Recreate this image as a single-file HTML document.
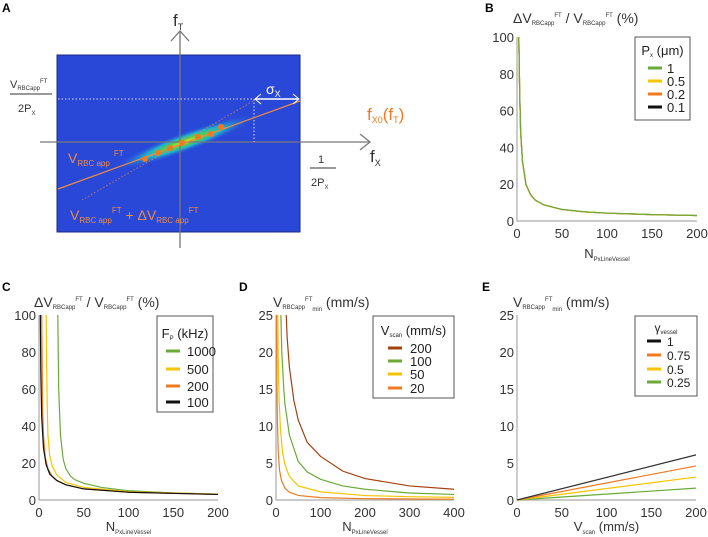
<!DOCTYPE html>
<html><head><meta charset="utf-8"><style>
body{margin:0;background:#fff;}
svg{display:block;font-family:"Liberation Sans",sans-serif;}
</style></head><body>
<svg id="fig" width="708" height="537" viewBox="0 0 708 537">
<defs>
<radialGradient id="blob" cx="50%" cy="50%" r="50%">
<stop offset="0%" stop-color="#f0e020"/>
<stop offset="25%" stop-color="#60d040"/>
<stop offset="55%" stop-color="#20b0d0"/>
<stop offset="100%" stop-color="#2a48d8" stop-opacity="0"/>
</radialGradient>
</defs>
<g>
<text x="2" y="12" font-size="12" font-weight="bold">A</text>
<rect x="57" y="55" width="243" height="177" fill="#2a48d8" stroke="#1a2a80"/>
<ellipse cx="185" cy="142" rx="75" ry="10" fill="url(#blob)" transform="rotate(-20 185 142)"/>
<line x1="180" y1="32" x2="180" y2="248" stroke="#777" stroke-width="1.3"/>
<polyline points="171,41 180,31 189,41" fill="none" stroke="#777" stroke-width="1.3"/>
<line x1="40" y1="142" x2="370" y2="142" stroke="#777" stroke-width="1.3"/>
<polyline points="360,134 370,142 360,150" fill="none" stroke="#777" stroke-width="1.3"/>
<line x1="58" y1="99" x2="253" y2="99" stroke="#ddd" stroke-dasharray="1.5,2"/>
<line x1="254" y1="99" x2="254" y2="142" stroke="#ddd" stroke-dasharray="1.5,2"/>
<line x1="82" y1="200" x2="255" y2="100" stroke="#f08a40" stroke-dasharray="1.5,2" opacity="0.7"/>
<line x1="58" y1="189" x2="300" y2="101" stroke="#f08a40" stroke-width="1.2"/>
<g fill="#f07a20">
<circle cx="145" cy="159" r="3"/><circle cx="158" cy="153" r="3"/><circle cx="170" cy="148" r="3"/><circle cx="182" cy="143" r="3"/><circle cx="198" cy="137" r="3"/><circle cx="211" cy="134" r="3"/><circle cx="221" cy="127" r="3"/></g>
<line x1="256" y1="99" x2="298" y2="99" stroke="#fff" stroke-width="1.5"/>
<polyline points="261,94 255,99 261,104" fill="none" stroke="#fff"/><polyline points="293,94 299,99 293,104" fill="none" stroke="#fff"/>
<text x="266" y="94" font-size="14" fill="#fff">σ<tspan font-size="9" dy="3">X</tspan></text>
<text x="173" y="26" font-size="17" fill="#333">f<tspan font-size="9" dy="4">T</tspan></text>
<text x="370" y="162" font-size="17" fill="#333">f<tspan font-size="9" dy="4">X</tspan></text>
<text x="367" y="120" font-size="17" fill="#f07a20">f<tspan font-size="9" dy="3">X0</tspan><tspan dy="-3">(f</tspan><tspan font-size="9" dy="3">T</tspan><tspan dy="-3">)</tspan></text>
<text x="10" y="88" font-size="11" fill="#333">V<tspan font-size="6" dy="2">RBCapp</tspan><tspan font-size="6" dy="-7">FT</tspan></text>
<line x1="10" y1="94" x2="52" y2="94" stroke="#333"/>
<text x="18" y="112" font-size="11" fill="#333">2P<tspan font-size="6" dy="3">X</tspan></text>
<text x="318" y="163" font-size="11" fill="#333">1</text>
<line x1="310" y1="168" x2="336" y2="168" stroke="#333"/>
<text x="311" y="186" font-size="11" fill="#333">2P<tspan font-size="6" dy="3">X</tspan></text>
<text x="68" y="163" font-size="14" fill="#f08a40">V<tspan font-size="8" dy="3">RBC app</tspan><tspan font-size="8" dx="4" dy="-10">FT</tspan></text>
<text x="70" y="220" font-size="14" fill="#f08a40">V<tspan font-size="8" dy="3">RBC app</tspan><tspan font-size="8" dy="-10">FT</tspan><tspan dy="7"> + ΔV</tspan><tspan font-size="8" dy="3">RBC app</tspan><tspan font-size="8" dy="-10">FT</tspan></text>
</g>
<g id="plots"></g>
</svg>
<script>
const G='#6aaa3a',Y='#f5c400',O='#f07a20',K='#111',BR='#a5400f';
// Panel B data
const bN=[2,3,4,6,10,15,20,30,50,75,100,150,200];
const bP1=[100,70,50,33,20,14.5,11.5,8.8,6.3,5,4.3,3.5,3];
const bP05=[100,69,49,32.5,19.7,14.3,11.4,8.7,6.2,4.95,4.25,3.45,2.95];
const bP02=[100,69,49,32.5,19.7,14.3,11.4,8.7,6.2,4.95,4.25,3.45,2.95];
const bP01=[100,69,49,32.5,19.7,14.3,11.4,8.7,6.2,4.95,4.25,3.45,2.95];
// Panel C data
const c1000N=[21,22,24,27,30,35,40,50,70,100,150,200];
const c1000=[100,60,35,22,17,13,11,9,6.8,5,3.8,3.2];
const c500N=[8,9,10,12,15,20,30,50,100,200];
const c500=[100,55,35,24,18,13.5,9.5,6.8,4.5,3.1];
const c200N=[3,4,5,7,10,15,20,30,50,100,200];
const c200=[100,50,35,23,17,12.5,10.5,8.2,6,4.2,3];
const c100N=[1.5,2,3,5,8,12,20,30,50,100,200];
const c100=[100,70,45,28,19,14,10.5,8.2,6,4.2,3];
// Panel D data
const d200N=[23,25,30,40,50,70,100,150,200,300,400];
const d200=[25,22,18,13.5,10.8,7.8,5.9,3.9,2.9,1.9,1.45];
const d100N=[11,13,17,20,30,50,70,100,150,200,300,400];
const d100=[25,20,15.5,13,8.8,5.2,3.8,2.8,1.9,1.45,0.95,0.75];
const d50N=[4,5,7,10,15,20,30,50,100,200,300,400];
const d50=[25,19,13.5,9.5,6.3,4.8,3.2,1.9,1.1,0.6,0.45,0.35];
const d20N=[1.5,2,3,5,8,12,20,30,50,100,200,400];
const d20=[25,17,11,6.5,4,2.7,1.6,1.05,0.62,0.32,0.18,0.1];
// Panel E data
const eV=[0,200];
const eG1=[0,6.1];
const eG075=[0,4.6];
const eG05=[0,3.1];
const eG025=[0,1.6];

const NS='http://www.w3.org/2000/svg';
const root=document.getElementById('plots');
function mk(tag,at,parent,txt){const e=document.createElementNS(NS,tag);for(const k in at)e.setAttribute(k,at[k]);if(txt!==undefined)e.textContent=txt;(parent||root).appendChild(e);return e;}
function panel(id,x0,x1,y0,y1,xmax,ymax,xt,yt){
  const g=mk('g',{});
  
  
  const sx=v=>x0+(x1-x0)*v/xmax, sy=v=>y0-(y0-y1)*v/ymax;
  const ax=mk('path',{d:`M${x0},${y1} V${y0} H${x1}`,fill:'none',stroke:'#aaa','stroke-width':1.2},g);
  
  
  xt.forEach(v=>{const t=mk('text',{x:sx(v),y:y0+17,'font-size':13,'text-anchor':'middle',fill:'#333'},g,String(v));
    
    });
  yt.forEach(v=>{const t=mk('text',{x:x0-3,y:sy(v)+5,'font-size':13,'text-anchor':'end',fill:'#333'},g,String(v));
    
    });
  return {g,sx,sy,x0,x1,y0,y1};
}
function series(p,xs,ys,col,name,ymax){
  const pts=xs.map((x,i)=>[p.sx(x),p.sy(Math.min(ys[i],ymax))]);
  const l=mk('polyline',{points:pts.map(q=>q.join(',')).join(' '),fill:'none',stroke:col,'stroke-width':1.2},p.g);
  
  
}
function legend(p,bx,by,bw,bh,title,items,ty,ey,lx,tx,fs){
  const g=mk('g',{},p.g);
  
  
  mk('rect',{x:bx,y:by,width:bw,height:bh,fill:'#fff',stroke:'#555','stroke-width':1},g);
  mk('text',{x:bx+bw/2,y:ty,'font-size':fs||13,'text-anchor':'middle',fill:'#222'},g).innerHTML=title;
  items.forEach((it,i)=>{
    mk('line',{x1:lx,x2:lx+14,y1:ey[i],y2:ey[i],stroke:it[1],'stroke-width':3},g);
    const t=mk('text',{x:tx,y:ey[i]+5,'font-size':fs||13,fill:'#222'},g,it[0]);
    
    
  });
}
function title(p,x,y,html){mk('text',{x,y,'font-size':14,fill:'#333'},p.g).innerHTML=html;}
function xtitle(p,html,y){mk('text',{x:(p.x0+p.x1)/2,y:y,'font-size':13,'text-anchor':'middle',fill:'#333'},p.g).innerHTML=html;}
const dvTitle='ΔV<tspan font-size="6" dy="2">RBCapp</tspan><tspan font-size="6" dy="-8">FT</tspan><tspan dy="6"> / V</tspan><tspan font-size="6" dy="2">RBCapp</tspan><tspan font-size="6" dy="-8">FT</tspan><tspan dy="6"> (%)</tspan>';
const npx='N<tspan font-size="6" dy="3">PxLineVessel</tspan>';
const vmin='V<tspan font-size="6" dy="2">RBCapp</tspan><tspan font-size="6" dy="-8">FT</tspan><tspan font-size="6" dy="10">min</tspan><tspan dy="-4"> (mm/s)</tspan>';
// B
let p=panel('panel-b',517,697,221,37,200,100,[0,50,100,150,200],[0,20,40,60,80,100]);
mk('text',{x:485,y:12,'font-size':12,'font-weight':'bold'},p.g,'B');
title(p,513,23,dvTitle);xtitle(p,npx,258);
series(p,bN,bP01,K,'series-px-0.1',100);series(p,bN,bP02,O,'series-px-0.2',100);series(p,bN,bP05,Y,'series-px-0.5',100);series(p,bN,bP1,G,'series-px-1',100);
legend(p,635,37,55,83,'P<tspan font-size="6" dy="2">x</tspan><tspan dy="-2"> (μm)</tspan>',[['1',G],['0.5',Y],['0.2',O],['0.1',K]],55,[68,81,94,107],648,667);
// C
p=panel('panel-c',39,218,500,315,200,100,[0,50,100,150,200],[0,20,40,60,80,100]);
mk('text',{x:2,y:291,'font-size':12,'font-weight':'bold'},p.g,'C');
title(p,34,307,dvTitle);xtitle(p,npx,531);
series(p,c1000N,c1000,G,'series-fp-1000',100);series(p,c500N,c500,Y,'series-fp-500',100);series(p,c200N,c200,O,'series-fp-200',100);series(p,c100N,c100,K,'series-fp-100',100);
legend(p,157,316,56,96,'F<tspan font-size="6" dy="2">P</tspan><tspan dy="-2"> (kHz)</tspan>',[['1000',G],['500',Y],['200',O],['100',K]],338,[351,369,386,402],166,187);
// D
p=panel('panel-d',276,454,500,315,400,25,[0,100,200,300,400],[0,5,10,15,20,25]);
mk('text',{x:239,y:291,'font-size':12,'font-weight':'bold'},p.g,'D');
title(p,273,307,vmin);xtitle(p,npx,531);
series(p,d20N,d20,O,'series-vscan-20',25);series(p,d50N,d50,Y,'series-vscan-50',25);series(p,d100N,d100,G,'series-vscan-100',25);series(p,d200N,d200,BR,'series-vscan-200',25);
legend(p,373,316,81,82,'V<tspan font-size="6" dy="2">scan</tspan><tspan dy="-2"> (mm/s)</tspan>',[['200',BR],['100',G],['50',Y],['20',O]],335,[348,361,374,388],388,410);
// E
p=panel('panel-e',517,696,500,315,200,25,[0,50,100,150,200],[0,5,10,15,20,25]);
mk('text',{x:482,y:291,'font-size':12,'font-weight':'bold'},p.g,'E');
title(p,513,307,vmin);xtitle(p,'V<tspan font-size="6" dy="3">scan</tspan><tspan dy="-3"> (mm/s)</tspan>',531);
series(p,eV,eG025,G,'series-gamma-0.25',25);series(p,eV,eG05,Y,'series-gamma-0.5',25);series(p,eV,eG075,O,'series-gamma-0.75',25);series(p,eV,eG1,'#333','series-gamma-1',25);
legend(p,635,316,62,80,'γ<tspan font-size="6" dy="2">vessel</tspan>',[['1',K],['0.75',O],['0.5',Y],['0.25',G]],332,[341,355,369,382],647,667,12);
</script>
</body></html>
